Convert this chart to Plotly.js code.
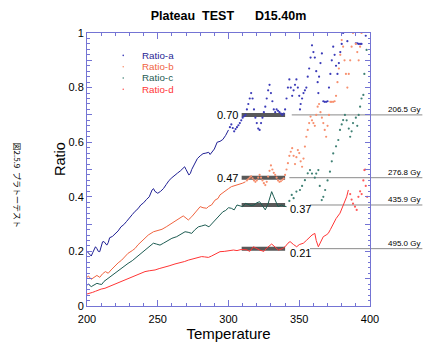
<!DOCTYPE html>
<html><head><meta charset="utf-8">
<script src="https://cdn.plot.ly/plotly-3.0.1.min.js"></script>
<style>html,body{margin:0;padding:0;background:#fff;}#chart{width:431px;height:349px;}</style>
</head><body><div id="chart"></div>
<script>
// ---------- data ----------
const seriesNames = ['Ratio-a', 'Ratio-b', 'Ratio-c', 'Ratio-d'];

// Ratio-a (dense part, then sparse dotted part)
const aT = [200,201,202,203,204,205,206,207,208,209,210,211,212,213,214,215,216,218,220,222,224,226,228,230,232,234,236,238,240,242,244,246,247,248,250,252,254,256,258,260,262,264,266,268,269,270,271,272,273,274,276,278,280,282,284,286,287,288,289,290,292,294,296,298,300];
const aR = [0.20,0.195,0.188,0.183,0.195,0.21,0.217,0.21,0.20,0.199,0.215,0.235,0.236,0.228,0.223,0.232,0.25,0.255,0.265,0.275,0.29,0.298,0.31,0.321,0.335,0.347,0.356,0.37,0.378,0.39,0.40,0.425,0.43,0.42,0.413,0.42,0.43,0.445,0.46,0.47,0.48,0.487,0.495,0.505,0.51,0.50,0.49,0.48,0.485,0.50,0.52,0.54,0.55,0.558,0.56,0.563,0.555,0.562,0.565,0.575,0.60,0.603,0.61,0.625,0.645];
const aDotT = [301,302,303,304,305,306,307,308,309,310,311,312,313,314,315,316,317,318,319,320,321,322,323,324,325,326,327,328,329,330,331,332,333,334,335,336,337,338,339,340,341,342,343,344,345,346,347,348,349,350,350.5,351,352,353,354,355,356,357,358,359,360,361,362,363,363.5,364,365,366,367,368,369,370,371,372,373,374,375,376,377,378,379,380,381,384,390,391,392,393,394,397];
const aDotR = [0.655,0.665,0.652,0.64,0.648,0.655,0.662,0.67,0.68,0.69,0.695,0.70,0.72,0.74,0.76,0.78,0.76,0.72,0.69,0.67,0.65,0.645,0.67,0.69,0.71,0.73,0.76,0.79,0.81,0.78,0.75,0.72,0.71,0.72,0.715,0.71,0.705,0.70,0.705,0.72,0.76,0.80,0.83,0.80,0.77,0.79,0.81,0.83,0.80,0.77,0.72,0.74,0.76,0.78,0.79,0.80,0.84,0.87,0.91,0.955,0.93,0.91,0.86,0.82,0.78,0.84,0.89,0.925,0.75,0.748,0.748,0.75,0.80,0.85,0.90,0.95,0.92,0.88,0.85,0.89,0.93,0.96,1.0,0.97,0.962,0.962,0.96,0.96,0.96,0.99];

// Ratio-b
const bT = [200,201,203,205,207,209,211,213,215,217,220,222,224.5,227,229,232,234,236,238.6,241,243.3,247,250,253,256,260,264,268,270,271.6,274,277,280,282,284.6,286,288,290.5,292.6,294,296,298,300,302,304,306,308,310,312];
const bR = [0.105,0.11,0.098,0.105,0.112,0.105,0.118,0.126,0.12,0.132,0.15,0.158,0.168,0.18,0.193,0.203,0.211,0.224,0.236,0.248,0.26,0.272,0.277,0.281,0.29,0.303,0.315,0.33,0.322,0.315,0.327,0.345,0.364,0.36,0.358,0.365,0.37,0.388,0.394,0.407,0.415,0.425,0.43,0.437,0.44,0.443,0.447,0.45,0.455];
const bDotT = [313,314,315,316,317,318,319,320,321,322,323,324,325,326,327,328,329,330,331,332,333,334,335,336,337,338,339,340,341,342,343,344,345,346,347,348,349,350,351,352,353,354,355,356,357,358,359,360,361,362,363,364,365,366,367,368,369,370,371,372,373,374,375,376,377,378,379,380,381,382,383,384,385,386,387,388,390,391,392,393,394];
const bDotR = [0.46,0.465,0.47,0.475,0.468,0.46,0.455,0.46,0.47,0.48,0.47,0.46,0.45,0.443,0.455,0.474,0.495,0.515,0.50,0.488,0.48,0.47,0.46,0.455,0.457,0.462,0.467,0.48,0.50,0.523,0.55,0.565,0.578,0.55,0.52,0.545,0.571,0.56,0.53,0.51,0.54,0.584,0.62,0.645,0.67,0.694,0.68,0.67,0.66,0.70,0.73,0.74,0.71,0.69,0.67,0.645,0.62,0.66,0.70,0.748,0.748,0.748,0.75,0.77,0.82,0.87,0.92,0.974,0.95,0.90,0.85,0.80,0.85,0.90,0.95,1.0,0.96,0.93,0.90,0.95,1.0];

// Ratio-c
const cT = [200,201,203,205,207,209,210.4,212,214,217,220,222,224.5,227,229,232,234,236,238.6,241,243.3,246.9,249,251.6,254,257.5,260,263.4,266,269.3,271.5,274,276,278.7,281,283.5,286.2,288,290.5,292.6,294,296,298,300,302,304,306,308,310,312,314,316,318,320,322,324,326,328,329.5,330.5,332,333,335,337.5,339,341];
const cR = [0.077,0.08,0.071,0.078,0.083,0.08,0.079,0.09,0.098,0.108,0.12,0.128,0.138,0.147,0.156,0.166,0.175,0.183,0.193,0.205,0.217,0.23,0.227,0.223,0.23,0.242,0.248,0.254,0.262,0.272,0.27,0.266,0.278,0.29,0.293,0.297,0.29,0.30,0.315,0.327,0.335,0.345,0.35,0.36,0.358,0.352,0.37,0.366,0.364,0.376,0.372,0.368,0.37,0.378,0.382,0.365,0.352,0.375,0.40,0.419,0.40,0.388,0.364,0.37,0.366,0.364];
const cDotT = [343,344.7,346,348,350.5,352,354,356,357.6,359,361,362,363.5,364.5,365.9,367,368.3,370,371.7,373,374,376,377.6,378.8,380,381,382.3,383.5,385,386,387,388,390,391,392,393,394,395.3,396,397.6];
const cDotR = [0.385,0.407,0.395,0.419,0.425,0.44,0.461,0.486,0.498,0.485,0.47,0.485,0.498,0.44,0.388,0.40,0.425,0.46,0.492,0.53,0.559,0.585,0.608,0.645,0.665,0.681,0.70,0.68,0.65,0.62,0.64,0.67,0.69,0.66,0.70,0.73,0.76,0.773,0.85,0.938];

// Ratio-d
const dT = [200,202,204,206,208,210,212.7,215,217,219.8,222,224,226.9,229,231,233.9,236,238,241,244,248.1,251,255.1,258,262.2,264,266.9,269,271.6,274,276.3,278,281,283,285.8,288,290.5,294,297,300,303.5,306,309,312.9,315,317.6,320,322,325,327,330.5,333,335.3,338,340,342,343.5,346,348.2,350,352.9,355,357.6,359,361,362,363.5,365,367,369,370.5,372,374,376,378.8,380,381,382.3,383.5,384.7];
const dR = [0.044,0.046,0.05,0.054,0.059,0.062,0.065,0.07,0.075,0.081,0.086,0.09,0.095,0.10,0.105,0.11,0.116,0.121,0.126,0.129,0.132,0.137,0.142,0.147,0.154,0.156,0.159,0.163,0.168,0.171,0.175,0.178,0.181,0.18,0.178,0.183,0.189,0.199,0.20,0.203,0.205,0.203,0.207,0.206,0.20,0.217,0.21,0.205,0.20,0.212,0.227,0.215,0.205,0.21,0.217,0.23,0.236,0.225,0.217,0.225,0.23,0.24,0.254,0.26,0.266,0.24,0.217,0.235,0.254,0.26,0.266,0.28,0.303,0.32,0.34,0.355,0.364,0.382,0.40,0.425];
const dDotT = [386,387,388,389.4,390.6,391.8,393,394.1,395.3,396,396.5,397,398];
const dDotR = [0.41,0.39,0.375,0.364,0.352,0.40,0.42,0.41,0.46,0.498,0.50,0.44,0.40];

// plateau evaluation
const plateauValues = [0.70, 0.47, 0.37, 0.21];
const plateauLabels = ['0.70', '0.47', '0.37', '0.21'];
const plateauLabelSide = ['left', 'left', 'right', 'right'];
const plateauT = [309.3, 340];
const guideStartT = [344.7, 343, 357.6, 357.6];
const doseLabels = ['206.5 Gy', '276.8 Gy', '435.9 Gy', '495.0 Gy'];

const xTickVals = [200, 250, 300, 350, 400];
const xTickText = ['200', '250', '300', '350', '400'];
const yTickVals = [0, 0.1, 0.2, 0.3, 0.4, 0.5, 0.6, 0.7, 0.8, 0.9, 1];
const yTickText = ['0', '', '0.2', '', '0.4', '', '0.6', '', '0.8', '', '1'];

// ---------- styles ----------
const colors = ['#1f1f94', '#f0643f', '#1d5c52', '#ff3535'];
const dotColors = ['#3b3bb8', '#f7906f', '#3f8074', '#ff5a5a'];
const axisColor = '#7474d4';
const FONT = 'Arial, "Liberation Sans", sans-serif';
const xRange = [200, 400];
const yRange = [0, 1];

const solid = [[aT, aR], [bT, bR], [cT, cR], [dT, dR]];
const dots = [[aDotT, aDotR], [bDotT, bDotR], [cDotT, cDotR], [dDotT, dDotR]];

const traces = [];
solid.forEach((s, i) => traces.push({
  x: s[0], y: s[1], type: 'scatter', mode: 'lines', name: seriesNames[i],
  line: {color: colors[i], width: 1}, showlegend: false, hoverinfo: 'skip'
}));
dots.forEach((s, i) => traces.push({
  x: s[0], y: s[1], type: 'scatter', mode: 'markers', name: seriesNames[i],
  marker: {color: dotColors[i], size: 2.2}, showlegend: false, cliponaxis: true, hoverinfo: 'skip'
}));

const toPaperX = t => (t - xRange[0]) / (xRange[1] - xRange[0]);
const guideEnd = 1.185;

const shapes = [];
const annotations = [];
plateauValues.forEach((v, i) => {
  shapes.push({type: 'line', xref: 'x', yref: 'y', x0: plateauT[0], x1: plateauT[1], y0: v, y1: v,
    line: {color: 'rgba(60,60,60,0.85)', width: 4}, layer: 'below'});
  shapes.push({type: 'line', xref: 'paper', yref: 'y', x0: toPaperX(guideStartT[i]), x1: guideEnd, y0: v, y1: v,
    line: {color: '#8a8a8a', width: 1}, layer: 'below'});
  const left = plateauLabelSide[i] === 'left';
  annotations.push({xref: 'x', yref: 'y', x: left ? plateauT[0] : plateauT[1], y: v,
    xanchor: left ? 'right' : 'left', yanchor: 'middle', xshift: left ? -2 : 3, yshift: left ? 0 : -4,
    text: plateauLabels[i], showarrow: false, font: {family: FONT, size: 11, color: '#000'}});
  annotations.push({xref: 'paper', yref: 'y', x: guideEnd, y: v, xanchor: 'right', yanchor: 'bottom', yshift: -1,
    text: doseLabels[i], showarrow: false, font: {family: '"Liberation Sans", Arial, sans-serif', size: 8, color: '#000'}});
});

// legend (names + small dots)
seriesNames.forEach((n, i) => {
  const yp = 0.918 - i * 11.3 / 273;
  annotations.push({xref: 'paper', yref: 'paper', x: 0.192, y: yp, xanchor: 'left', yanchor: 'middle',
    text: n, showarrow: false, borderpad: 0, font: {family: FONT, size: 9.8, color: colors[i]}});
  shapes.push({type: 'circle', xref: 'paper', yref: 'paper', xsizemode: 'pixel', ysizemode: 'pixel',
    xanchor: 0.128, yanchor: yp, x0: -0.8, x1: 0.8, y0: -0.8, y1: 0.8,
    fillcolor: dotColors[i], line: {width: 0}});
});

// y axis title (placed as in the reference, above the plot centre)
annotations.push({xref: 'paper', yref: 'paper', x: -0.131, y: 0.538, textangle: -90,
  text: 'Ratio', showarrow: false, font: {family: FONT, size: 14.5, color: '#000'}});

// side caption
annotations.push({xref: 'paper', yref: 'paper', x: -0.272, y: 0.443, textangle: 90,
  text: '図2.5.9\u00a0\u00a0プラトーテスト', showarrow: false,
  font: {family: '"Noto Sans CJK JP", sans-serif', size: 8, color: '#000'}});

const layout = {
  width: 431, height: 349, autosize: false,
  margin: {l: 87, r: 61, t: 33, b: 43, pad: 0},
  paper_bgcolor: '#fff', plot_bgcolor: '#fff',
  showlegend: false,
  title: {text: '<b>Plateau\u00a0\u00a0TEST\u00a0\u00a0\u00a0\u00a0\u00a0\u00a0D15.40m</b>', font: {family: FONT, size: 12.5, color: '#000'},
    xref: 'paper', x: 0.5, xanchor: 'center', yref: 'container', y: 1 - 15.5 / 349, yanchor: 'middle'},
  font: {family: FONT, color: '#000'},
  xaxis: {range: xRange, showline: true, linecolor: axisColor, linewidth: 1, mirror: 'ticks',
    ticks: 'inside', ticklen: 6, tickwidth: 1, tickcolor: axisColor, ticklabelstandoff: 3,
    tickmode: 'array', tickvals: xTickVals, ticktext: xTickText,
    minor: {tickmode: 'linear', tick0: 200, dtick: 10, ticks: 'inside', ticklen: 3, tickcolor: axisColor, showgrid: false},
    showgrid: false, zeroline: false, tickfont: {family: FONT, size: 11, color: '#000'},
    title: {text: 'Temperature', font: {family: FONT, size: 15, color: '#000'}, standoff: 4}},
  yaxis: {range: yRange, showline: true, linecolor: axisColor, linewidth: 1, mirror: 'ticks',
    ticks: 'inside', ticklen: 5, tickwidth: 1, tickcolor: axisColor,
    tickmode: 'array', tickvals: yTickVals, ticktext: yTickText,
    minor: {tickmode: 'linear', tick0: 0, dtick: 0.02, ticks: 'inside', ticklen: 2.5, tickcolor: axisColor, showgrid: false},
    showgrid: false, zeroline: false, tickfont: {family: FONT, size: 11, color: '#000'}},
  shapes: shapes,
  annotations: annotations
};

Plotly.newPlot('chart', traces, layout, {staticPlot: true, displayModeBar: false});
</script>
</body></html>
